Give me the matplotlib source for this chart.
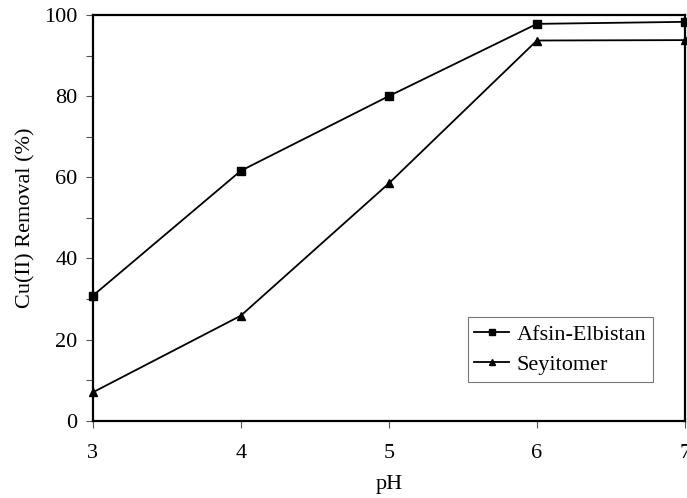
import matplotlib
matplotlib.use("Agg")
import matplotlib.pyplot as plt
from matplotlib.ticker import MultipleLocator

# data
ph = [3, 4, 5, 6, 7]
afsin_elbistan = [30.8, 61.6, 80.0, 97.8, 98.3]
seyitomer = [7.0, 25.9, 58.5, 93.7, 93.8]

plt.rcParams['font.family'] = ['Liberation Serif', 'DejaVu Serif']
plt.rcParams['font.size'] = 16

fig = plt.figure(figsize=(6.87, 4.98), dpi=100)
ax = fig.add_axes([0.135, 0.155, 0.862, 0.815])

ax.plot(ph, afsin_elbistan, color='black', lw=1.3, marker='s', ms=5.5,
        label='Afsin-Elbistan', clip_on=False, zorder=3)
ax.plot(ph, seyitomer, color='black', lw=1.3, marker='^', ms=5.5,
        label='Seyitomer', clip_on=False, zorder=3)

ax.set_xlim(3, 7)
ax.set_ylim(0, 100)
ax.xaxis.set_major_locator(MultipleLocator(1))
ax.yaxis.set_major_locator(MultipleLocator(20))
ax.yaxis.set_minor_locator(MultipleLocator(10))

for s in ax.spines.values():
    s.set_linewidth(1.6)

ax.tick_params(axis='both', which='major', direction='out', length=5, width=0.8,
               color='#555555', pad=6)
ax.tick_params(axis='x', which='major', pad=12)
ax.tick_params(axis='y', which='minor', direction='out', length=5, width=0.8,
               color='#555555')

ax.set_xlabel('pH', labelpad=8)
ax.set_ylabel('Cu(II) Removal (%)', labelpad=6)

leg = ax.legend(loc='lower right', bbox_to_anchor=(0.946, 0.096), fancybox=False,
                framealpha=1, edgecolor='#777777', handlelength=1.55,
                handletextpad=0.35, borderpad=0.3, labelspacing=0.45,
                borderaxespad=0, markerscale=0.9)
leg.get_frame().set_linewidth(0.8)

fig.savefig('out.png', dpi=100)
